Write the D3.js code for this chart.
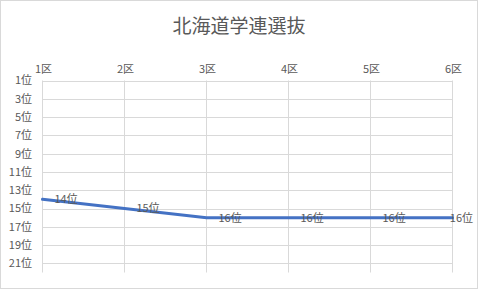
<!DOCTYPE html>
<html>
<head>
<meta charset="utf-8">
<script src="https://cdn.jsdelivr.net/npm/d3@7"></script>
<style>
  body { margin: 0; background: #fff; }
  text { font-family: "Noto Sans CJK JP", sans-serif; fill: #595959; }
</style>
</head>
<body>
<div id="container"></div>
<script>
let sections = ["1区", "2区", "3区", "4区", "5区", "6区"];
let ranks = [14, 15, 16, 16, 16, 16];
let rankTicks = [1, 3, 5, 7, 9, 11, 13, 15, 17, 19, 21];
let title = "北海道学連選抜";

let width = 478, height = 290;

let svg = d3.select("#container")
  .append("svg")
    .attr("width", width)
    .attr("height", height)
;

// chart border
svg.append("rect")
  .attr("x", 0.5).attr("y", 0.5)
  .attr("width", width - 1).attr("height", height - 2)
  .attr("fill", "#fff")
  .attr("stroke", "#d9d9d9")
;

svg.append("text")
  .attr("x", 239)
  .attr("y", 33)
  .attr("text-anchor", "middle")
  .attr("font-size", 19)
  .text(title)
;

let x = d3.scalePoint().domain(sections).range([42.5, 452.5]);
let y = d3.scaleLinear().domain([1, 22]).range([80.5, 272.5]);

// horizontal gridlines
svg.append("g")
  .selectAll("line").data(rankTicks).enter()
  .append("line")
    .attr("x1", x(sections[0]))
    .attr("x2", x(sections[sections.length - 1]))
    .attr("y1", d => Math.round(y(d)) + 0.5)
    .attr("y2", d => Math.round(y(d)) + 0.5)
    .attr("stroke", "#d9d9d9")
;

// vertical gridlines
svg.append("g")
  .selectAll("line").data(sections).enter()
  .append("line")
    .attr("x1", d => x(d)).attr("x2", d => x(d))
    .attr("y1", y(1)).attr("y2", y(22))
    .attr("stroke", "#d9d9d9")
;

// x axis labels on top
svg.append("g")
  .selectAll("text").data(sections).enter()
  .append("text")
    .attr("x", d => x(d) + 1)
    .attr("y", 73)
    .attr("text-anchor", "middle")
    .attr("font-size", 11)
    .text(d => d)
;

// y axis labels
svg.append("g")
  .selectAll("text").data(rankTicks).enter()
  .append("text")
    .attr("x", 32)
    .attr("y", d => y(d))
    .attr("dy", "0.36em")
    .attr("text-anchor", "end")
    .attr("font-size", 11)
    .text(d => d + "位")
;

let line = d3.line()
  .x((d, i) => x(sections[i]))
  .y(d => y(d));

svg.append("path")
  .datum(ranks)
  .attr("d", line)
  .attr("fill", "none")
  .attr("stroke", "#4472c4")
  .attr("stroke-width", 3)
  .attr("stroke-linecap", "round")
;

// data labels, right of the point, pulled back inside at the right edge
svg.append("g")
  .selectAll("text").data(ranks).enter()
  .append("text")
    .attr("x", (d, i) => i == ranks.length - 1 ? width - 5 : x(sections[i]) + 12)
    .attr("y", d => y(d))
    .attr("dy", "0.36em")
    .attr("text-anchor", (d, i) => i == ranks.length - 1 ? "end" : "start")
    .attr("font-size", 11)
    .attr("fill", "#404040")
    .text(d => d + "位")
;
</script>
</body>
</html>
